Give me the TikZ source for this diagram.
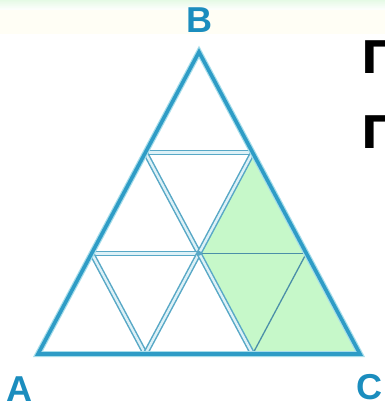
\documentclass[tikz,border=0pt]{standalone}
\usepackage{fontspec}
\setmainfont{Liberation Sans}
\newfontfamily\cyrfont{DejaVu Sans}
\usetikzlibrary{positioning, calc}
\definecolor{edgeblue}{HTML}{2E9CC6}
\definecolor{haloblue}{HTML}{A6DDEA}
\definecolor{innerblue}{HTML}{58A8C6}
\definecolor{innerfill}{HTML}{DDF1F7}
\definecolor{mint}{HTML}{C6F8C9}
\definecolor{labelblue}{HTML}{1B8DBE}
\tikzset{
  outerhalo/.style={draw=haloblue, line width=6pt, line join=miter},
  outerline/.style={draw=edgeblue, line width=3.6pt, line join=miter},
  innerline/.style={draw=innerblue, line width=1.5pt, double=innerfill, double distance=2.4pt},
  thinline/.style={draw=innerblue!85!black, line width=1.3pt},
  vlabel/.style={font=\bfseries\fontsize{36}{40}\selectfont, text=labelblue, inner sep=0pt},
  sidechar/.style={font=\cyrfont\bfseries\fontsize{45}{50}\selectfont, inner sep=0pt, anchor=base west},
}

\begin{document}
\begin{tikzpicture}[x=1pt, y=-1pt]
  \useasboundingbox (0,0) rectangle (385,410);
  \clip (0,0) rectangle (385,410);
  \shade[top color=black!20!green!10!white, bottom color=white] (0,0) rectangle (385,10);
  \fill[yellow!4] (0,10) rectangle (385,34);

  % corners of the big triangle
  \coordinate (A) at (38,354);
  \coordinate (C) at (360,354);
  \coordinate (B) at (199,52);
  % points on the sides
  \coordinate (L1) at ($(B)!1/3!(A)$);
  \coordinate (L2) at ($(B)!2/3!(A)$);
  \coordinate (R1) at ($(B)!1/3!(C)$);
  \coordinate (R2) at ($(B)!2/3!(C)$);
  \coordinate (Q1) at ($(A)!1/3!(C)$);
  \coordinate (Q2) at ($(A)!2/3!(C)$);
  \coordinate (M) at ($(L2)!1/2!(R2)$);

  % shaded part
  \fill[mint] (R1) -- (M) -- (Q2) -- (C) -- cycle;

  % lines inside the shaded part
  \draw[thinline] (M) -- (R2);
  \draw[thinline] (R2) -- (Q2);

  % small triangles
  \draw[innerline] (L1) -- (R1);
  \draw[innerline] (L1) -- (M);
  \draw[innerline] (R1) -- (M);
  \draw[innerline] (L2) -- (M);
  \draw[innerline] (L2) -- (Q1);
  \draw[innerline] (Q1) -- (M);
  \draw[innerline] (M) -- (Q2);
  \fill[innerblue] (M) circle (2.4);

  % big triangle
  \draw[outerhalo] (A) -- (B) -- (C) -- cycle;
  \draw[outerline] (A) -- (B) -- (C) -- cycle;

  \node[vlabel, above=19pt of B] (labB) {B};
  \node[vlabel, anchor=base] (labA) at ($(A)+(-19,47)$) {A};
  \node[vlabel, anchor=base] (labC) at ($(C)+(9,45)$) {C};

  \node[sidechar] (g1) at (361,73) {Г};
  \node[sidechar] (g2) at (361,148) {Г};
\end{tikzpicture}
\end{document}
